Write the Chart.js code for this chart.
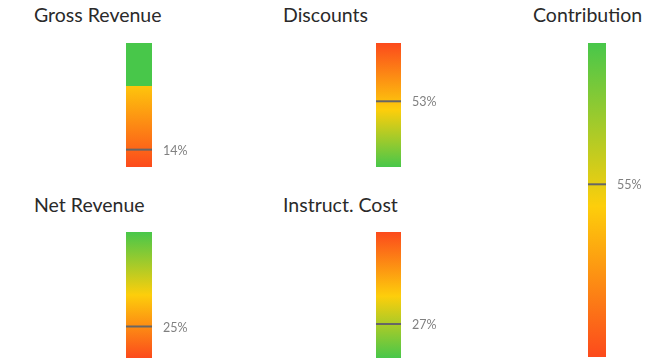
<!DOCTYPE html>
<html>
<head>
<meta charset="utf-8">
<script src="https://cdn.jsdelivr.net/npm/chart.js@4.4.0/dist/chart.umd.min.js"></script>
<style>
    html, body { margin: 0; padding: 0; background: #fff; width: 649px; height: 360px; overflow: hidden; }
    .title { position: absolute; font-family: Lato, "Open Sans", sans-serif; font-size: 19.5px; line-height: 20px; color: #2a2a2a; white-space: nowrap; }
    .panel { position: absolute; }
</style>
</head>
<body>
<script>
// Data
const panelTitles   = ["Gross Revenue", "Discounts", "Contribution", "Net Revenue", "Instruct. Cost"];
const percentValues = [14, 53, 55, 25, 27];
const rangeMin = 0;
const rangeMax = 100;

// Colours (bottom -> top gradient stops)
const RED = "#fc4a1c", YELLOW = "#fdce0b", GREEN = "#48c74a";
const gradientStops = [
    [[0, RED], [0.65, "#fec40c"], [0.65, GREEN], [1, GREEN]],
    [[0, GREEN], [0.46, YELLOW], [1, RED]],
    [[0, RED], [0.48, YELLOW], [1, GREEN]],
    [[0, RED], [0.5, YELLOW], [1, GREEN]],
    [[0, GREEN], [0.49, YELLOW], [1, RED]]
];

// Layout of each panel: title position and bar box
const layout = [
    {tx: 34,  ty: 5,   x: 126, y: 43,  w: 26, h: 124},
    {tx: 283, ty: 5,   x: 376, y: 43,  w: 25, h: 124},
    {tx: 533, ty: 5,   x: 588, y: 43,  w: 18, h: 314},
    {tx: 34,  ty: 195, x: 126, y: 232, w: 26, h: 126},
    {tx: 283, ty: 195, x: 376, y: 232, w: 25, h: 126}
];

const PAD = 4, RIGHT = 50;

/**
 * Writes the value next to the marker line.
 */
const markerLabel = {
    id: "markerLabel",
    afterDatasetsDraw(chart) {
        const pt = chart.getDatasetMeta(1).data[0];
        const ctx = chart.ctx;
        ctx.save();
        ctx.font = "12.5px Lato";
        ctx.fillStyle = "#808080";
        ctx.textBaseline = "middle";
        ctx.fillText(chart.data.datasets[1].data[0] + "%", chart.chartArea.right + 11, pt.y + 1);
        ctx.restore();
    }
};

panelTitles.forEach((title, i) => {
    const box = layout[i];

    const t = document.createElement("div");
    t.className = "title";
    t.style.left = box.tx + "px";
    t.style.top = box.ty + "px";
    t.textContent = title;
    document.body.appendChild(t);

    const wrap = document.createElement("div");
    wrap.className = "panel";
    wrap.style.left = box.x + "px";
    wrap.style.top = (box.y - PAD) + "px";
    const canvas = document.createElement("canvas");
    canvas.width = box.w + RIGHT;
    canvas.height = box.h + PAD * 2;
    wrap.appendChild(canvas);
    document.body.appendChild(wrap);

    new Chart(canvas, {
        type: "bar",
        data: {
            labels: [title],
            datasets: [
                {
                    order: 1,
                    data: [[rangeMin, rangeMax]],
                    barPercentage: 1,
                    categoryPercentage: 1,
                    borderWidth: 0,
                    backgroundColor: (c) => {
                        const area = c.chart.chartArea;
                        if (!area) return null;
                        const g = c.chart.ctx.createLinearGradient(0, area.bottom, 0, area.top);
                        gradientStops[i].forEach(([p, col]) => g.addColorStop(p, col));
                        return g;
                    }
                },
                {
                    // marker line, drawn over the bar
                    order: 0,
                    type: "line",
                    data: [percentValues[i]],
                    showLine: false,
                    clip: false,
                    pointStyle: "line",
                    pointRadius: box.w / 2,
                    pointHoverRadius: box.w / 2,
                    pointBorderWidth: 2,
                    pointBorderColor: "#666",
                    borderColor: "#666"
                }
            ]
        },
        options: {
            responsive: false,
            animation: false,
            events: [],
            layout: {autoPadding: false, padding: {left: 0, right: RIGHT, top: PAD, bottom: PAD}},
            scales: {
                x: {display: false, offset: true},
                y: {display: false, min: rangeMin, max: rangeMax}
            },
            plugins: {legend: {display: false}, tooltip: {enabled: false}}
        },
        plugins: [markerLabel]
    });
});
</script>
</body>
</html>
